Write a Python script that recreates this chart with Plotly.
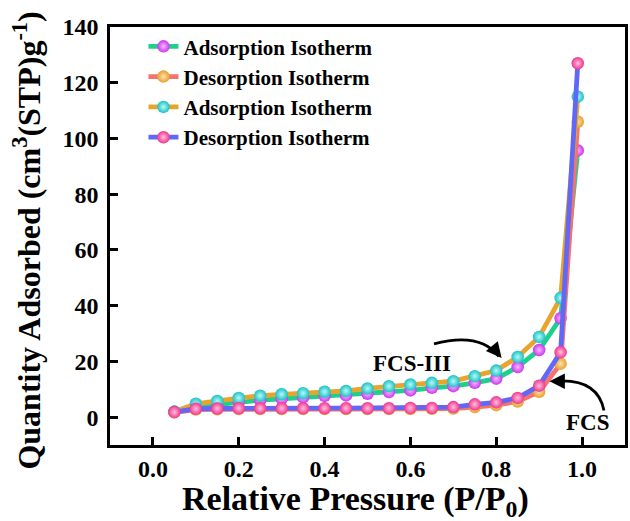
import plotly.graph_objects as go

# ---- data ----
pressure = [0.05, 0.10, 0.15, 0.20, 0.25, 0.30, 0.35, 0.40, 0.45, 0.50,
            0.55, 0.60, 0.65, 0.70, 0.75, 0.80, 0.85, 0.90, 0.95, 0.99]

ads_green = [1.9, 3.6, 4.5, 5.4, 6.1, 6.6, 7.1, 7.6, 7.8, 8.4,
             9.0, 9.6, 10.5, 11.1, 12.3, 13.8, 18.0, 24.1, 35.5, 95.7]
des_salmon = [1.7, 2.7, 2.8, 2.9, 2.9, 2.9, 2.9, 2.9, 2.9, 2.9,
              2.9, 2.9, 3.0, 3.1, 3.6, 4.3, 5.6, 9.1, 19.2, 106.0]
ads_gold = [2.0, 4.8, 5.8, 6.9, 7.7, 8.2, 8.6, 9.1, 9.4, 10.3,
            11.1, 11.7, 12.3, 12.9, 14.7, 16.7, 21.6, 28.8, 42.8, 115.0]
des_blue = [1.8, 3.0, 3.1, 3.2, 3.2, 3.2, 3.2, 3.2, 3.2, 3.2,
            3.2, 3.3, 3.3, 3.6, 4.6, 5.3, 6.9, 11.3, 23.3, 127.0]

names = ["Adsorption Isotherm", "Desorption Isotherm",
         "Adsorption Isotherm", "Desorption Isotherm"]
series = [ads_green, des_salmon, ads_gold, des_blue]
line_colors = ["#1FD08C", "#F7716E", "#E8A52E", "#6268F6"]
marker_colors = ["#CC36EE", "#E6A030", "#18C2C4", "#F0358E"]
marker_centers = ["#F3B8FF", "#FFE0A8", "#B8F8F8", "#FFC0DD"]

x_ticks = [0.0, 0.2, 0.4, 0.6, 0.8, 1.0]
y_ticks = [0, 20, 40, 60, 80, 100, 120, 140]

FONT = "Liberation Serif, Times New Roman, serif"

fig = go.Figure()
for ys, nm, lc, mc, cc in zip(series, names, line_colors, marker_colors, marker_centers):
    fig.add_trace(go.Scatter(
        x=pressure, y=ys, name=nm, mode="lines+markers",
        line=dict(color=lc, width=4.8),
        marker=dict(size=12.5, color=mc, line=dict(width=0),
                    gradient=dict(type="radial", color=cc)),
    ))

# curved arrows (data coordinates)
fig.add_shape(type="path", xref="x", yref="y",
              path="M 0.655,26.3 Q 0.762,30.6 0.806,21.8",
              line=dict(color="black", width=2.8))
fig.add_annotation(x=0.8125, y=21.2, xref="x", yref="y", text="",
                   showarrow=True, ax=-9, ay=-11, arrowhead=2,
                   arrowsize=1.1, arrowwidth=2.8, arrowcolor="black")
fig.add_shape(type="path", xref="x", yref="y",
              path="M 1.051,2.4 Q 1.036,14.2 0.935,12.9",
              line=dict(color="black", width=2.8))
fig.add_annotation(x=0.924, y=12.9, xref="x", yref="y", text="",
                   showarrow=True, ax=14, ay=0, arrowhead=2,
                   arrowsize=1.1, arrowwidth=2.8, arrowcolor="black")

fig.add_annotation(x=0.604, y=19.4, xref="x", yref="y", text="FCS-III",
                   showarrow=False,
                   font=dict(family=FONT, size=23, color="black", weight="bold"))
fig.add_annotation(x=1.012, y=-1.8, xref="x", yref="y", text="FCS",
                   showarrow=False,
                   font=dict(family=FONT, size=23, color="black", weight="bold"))

# axis titles
fig.add_annotation(x=0.477, y=-0.134, xref="paper", yref="paper",
                   xanchor="center", yanchor="middle", showarrow=False,
                   text="Relative Pressure (P/P<sub>0</sub>)",
                   font=dict(family=FONT, size=34, color="black", weight="bold"))
fig.add_annotation(x=-0.162, y=0.488, xref="paper", yref="paper",
                   xanchor="center", yanchor="middle", showarrow=False,
                   textangle=-90,
                   text="Quantity Adsorbed (cm<sup>3</sup>(STP)g<sup>-1</sup>)",
                   font=dict(family=FONT, size=32, color="black", weight="bold"))

axis_common = dict(
    showline=True, linewidth=2.5, linecolor="black", mirror=True,
    ticks="inside", ticklen=8, tickwidth=2.5, tickcolor="black",
    showgrid=False, zeroline=False,
    tickfont=dict(family=FONT, size=24, color="black", weight="bold"),
)

fig.update_layout(
    width=630, height=521,
    margin=dict(l=110, r=2, t=27, b=76),
    paper_bgcolor="white", plot_bgcolor="white",
    font=dict(family=FONT, color="black"),
    showlegend=True,
    legend=dict(x=0.065, y=1.002, xanchor="left", yanchor="top",
                bgcolor="rgba(0,0,0,0)",
                font=dict(family=FONT, size=21, color="black", weight="bold"),
                tracegroupgap=0, itemwidth=30),
    xaxis=dict(range=[-0.1, 1.1], tickvals=x_ticks,
               ticktext=[f"{v:.1f}" for v in x_ticks],
               **axis_common),
    yaxis=dict(range=[-10, 140], tickvals=y_ticks,
               ticktext=[str(v) for v in y_ticks],
               ticklabelstandoff=4,
               **axis_common),
)

fig.write_html("out.html")
